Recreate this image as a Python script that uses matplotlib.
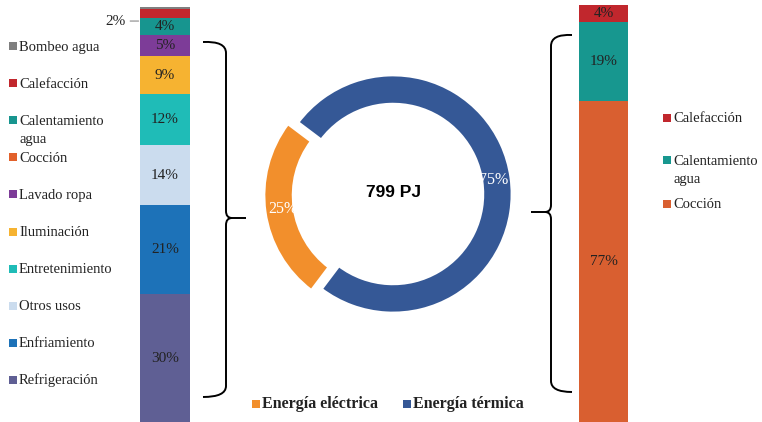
import matplotlib
matplotlib.use('Agg')
import matplotlib.pyplot as plt
from matplotlib.path import Path
from matplotlib.patches import PathPatch, Rectangle

# Electric end uses (bottom to top of the stacked bar)
elec_uses = ["Refrigeración", "Enfriamiento", "Otros usos", "Entretenimiento",
             "Iluminación", "Lavado ropa", "Cocción", "Calentamiento agua",
             "Calefacción", "Bombeo agua"]
elec_pct = [30, 21, 14, 12, 9, 5, 0, 4, 2, 0.5]
elec_colors = ["#5f5f94", "#1d72b8", "#cbdcee", "#1fbcb7", "#f6b331",
               "#7d3c98", "#e2612b", "#17958f", "#c1272d", "#7f7f7f"]

# Thermal end uses
therm_uses = ["Cocción", "Calentamiento agua", "Calefacción"]
therm_pct = [77, 19, 4]
therm_colors = ["#d95f30", "#17978f", "#c1272d"]

# Total split
split_labels = ["Energía eléctrica", "Energía térmica"]
split_pct = [25, 75]
split_colors = ["#f28f2c", "#355896"]
total_label = "799 PJ"

W, H = 762, 422
SERIF = "Liberation Serif"
TXT = "#222222"

fig = plt.figure(figsize=(W / 100, H / 100), dpi=100)


def px_rect(x0, y0, x1, y1):
    # pixel box (top-left origin) -> figure fraction rect
    return [x0 / W, 1 - y1 / H, (x1 - x0) / W, (y1 - y0) / H]


def stacked(ax, vals, cols):
    bottom = 0
    bars = []
    for v, c in zip(vals, cols):
        b = ax.bar(0, v, width=1, bottom=bottom, color=c, linewidth=0)
        bars.append((b, bottom, v))
        bottom += v
    ax.set_xlim(-0.5, 0.5)
    ax.set_ylim(0, bottom)
    ax.axis("off")
    return bars


# left bar: electric
axl = fig.add_axes(px_rect(140, 7, 190, 422))
for b, bot, v in stacked(axl, elec_pct, elec_colors):
    if v >= 4:
        axl.text(0, bot + v / 2, f"{v}%", ha="center", va="center",
                 family=SERIF, fontsize=11, color=TXT)
# small heating share labelled outside with a leader
red_mid = sum(elec_pct[:8]) + elec_pct[8] / 2
axl.annotate(f"{elec_pct[8]}%", xy=(-0.5, red_mid - 1.8), xytext=(-0.78, red_mid - 1.8),
             ha="right", va="center", family=SERIF, fontsize=11, color=TXT,
             arrowprops=dict(arrowstyle="-", color="#888888", lw=0.8,
                             shrinkA=1, shrinkB=1),
             annotation_clip=False)

# right bar: thermal
axr = fig.add_axes(px_rect(579, 5, 628, 422))
for b, bot, v in stacked(axr, therm_pct, therm_colors):
    axr.text(0, bot + v / 2, f"{v}%", ha="center", va="center",
             family=SERIF, fontsize=11, color=TXT)

# donut
cx, cy, r = 393, 194, 119
axd = fig.add_axes(px_rect(cx - r, cy - r, cx + r, cy + r))
wedges, texts, autotexts = axd.pie(
    split_pct, colors=split_colors, startangle=143, counterclock=True,
    explode=[0.085, 0], radius=1, autopct="%d%%", pctdistance=0.85,
    wedgeprops=dict(width=0.245, edgecolor="white", linewidth=2),
    textprops=dict(family=SERIF, fontsize=11.5, color="white"))
for t in autotexts:
    t.set_clip_on(False)
axd.set_xlim(-1, 1)
axd.set_ylim(-1, 1)
axd.set_aspect("equal")
axd.text(0, 0.01, total_label, ha="center", va="center",
         family="Liberation Sans", fontweight="bold", fontsize=12.5, color="black")

# overlay in pixel units for braces and legends
ov = fig.add_axes([0, 0, 1, 1], facecolor="none")
ov.set_xlim(0, W)
ov.set_ylim(H, 0)
ov.axis("off")


def brace(xv, y0, y1, ymid, xend, xtip):
    s = 1 if xtip > xv else -1
    up = [(xend, y0), (xv, y0 - 1), (xv, y0 + 11), (xv, ymid - 7),
          (xv, ymid), (xv + 6 * s, ymid), (xtip, ymid)]
    upc = [Path.MOVETO, Path.CURVE3, Path.CURVE3, Path.LINETO,
           Path.CURVE3, Path.CURVE3, Path.LINETO]
    lo = [(xv + 6 * s, ymid), (xv, ymid), (xv, ymid + 7), (xv, y1 - 11),
          (xv, y1), (xend, y1)]
    loc = [Path.MOVETO, Path.CURVE3, Path.CURVE3, Path.LINETO,
           Path.CURVE3, Path.CURVE3]
    for v, c in ((up, upc), (lo, loc)):
        ov.add_patch(PathPatch(Path(v, c), fill=False, lw=1.4, color="black",
                               capstyle="butt"))


brace(226, 42, 397, 218, 203, 246)
brace(551, 35, 392, 212, 572, 531)


def legend_item(x, y, color, label, size=10.5, weight="normal", sq=8):
    ov.add_patch(Rectangle((x, y - sq / 2), sq, sq, color=color, lw=0))
    # baseline of a multi-line label sits on its last line
    extra = label.count("\n") * 18
    ov.text(x + sq + 2, y + 4.5 + extra, label, ha="left", va="baseline",
            family=SERIF, fontsize=size, fontweight=weight, color=TXT,
            linespacing=1.45)


# left legend, top entry first
for i, (lab, col) in enumerate(zip(elec_uses[::-1], elec_colors[::-1])):
    lab = lab.replace("Calentamiento ", "Calentamiento\n")
    legend_item(9, 46 + i * 37.1, col, lab)

# right legend
for y, lab, col in zip([118, 160, 204], therm_uses[::-1], therm_colors[::-1]):
    legend_item(663, y, col, lab.replace("Calentamiento ", "Calentamiento\n"))

# donut legend
for x, lab, col in zip([252, 403], split_labels, split_colors):
    legend_item(x, 404, col, lab, size=11.5, weight="bold")

fig.savefig("out.png", dpi=100)
